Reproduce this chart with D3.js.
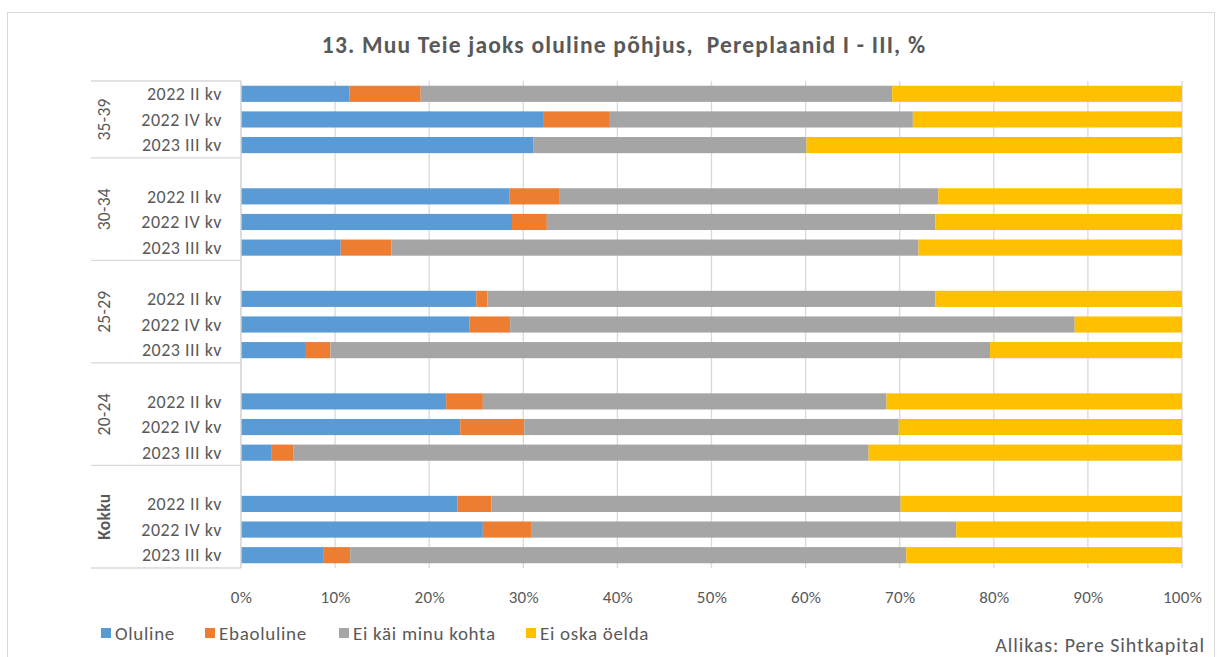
<!DOCTYPE html>
<html>
<head>
<meta charset="utf-8">
<script src="https://cdn.jsdelivr.net/npm/d3@7"></script>
<style>
  body { margin: 0; background: #fff; }
  text { font-family: Carlito, Calibri, Lato, sans-serif; fill: #595959; }
</style>
</head>
<body>
<div id="chart"></div>
<script>
// data (percent)
var groups = ["35-39", "30-34", "25-29", "20-24", "Kokku"];
var periods = ["2022 II kv", "2022 IV kv", "2023 III kv"];
var seriesNames = ["Oluline", "Ebaoluline", "Ei käi minu kohta", "Ei oska öelda"];
var seriesColors = ["#5B9BD5", "#ED7D31", "#A5A5A5", "#FFC000"];

var oluline    = [11.5, 32.1, 31.1,  28.5, 28.8, 10.6,  25.0, 24.3, 6.9,  21.8, 23.3, 3.2,  23.0, 25.7, 8.8];
var ebaoluline = [ 7.6,  7.1,  0.0,   5.3,  3.7,  5.4,   1.2,  4.3, 2.6,   3.9,  6.8, 2.4,   3.6,  5.2, 2.8];
var eiKai      = [50.1, 32.2, 29.0,  40.3, 41.3, 56.0,  47.6, 60.0, 70.1, 42.9, 39.8, 61.1, 43.5, 45.1, 59.1];
var eiOska     = [30.8, 28.6, 39.9,  25.9, 26.2, 28.0,  26.2, 11.4, 20.4, 31.4, 30.1, 33.3, 29.9, 24.0, 29.3];

var ticks = [0, 10, 20, 30, 40, 50, 60, 70, 80, 90, 100];

var W = 1222, H = 657;
var plotLeft = 241, plotRight = 1182, plotTop = 81, plotBottom = 568;

var svg = d3.select("#chart").append("svg")
  .attr("width", W)
  .attr("height", H);

svg.append("rect")
  .attr("x", 0).attr("y", 0).attr("width", W).attr("height", H)
  .attr("fill", "#fff");

// chart border
svg.append("rect")
  .attr("x", 7.5).attr("y", 12.5)
  .attr("width", 1207).attr("height", 700)
  .attr("fill", "none")
  .attr("stroke", "#d9d9d9");

svg.append("text")
  .attr("x", 624).attr("y", 53)
  .attr("text-anchor", "middle")
  .style("font-size", "23.5px")
  .style("letter-spacing", "1.2px")
  .style("white-space", "pre")
  .style("font-weight", "bold")
  .text("13. Muu Teie jaoks oluline põhjus,  Pereplaanid I - III, %");

// rows: one empty slot above every group except the first
var rows = [];
var slots = [];
groups.forEach(function(g, gi) {
  if (gi > 0) slots.push("gap" + gi);
  periods.forEach(function(p, pi) {
    var i = gi * periods.length + pi;
    var key = g + "|" + p;
    slots.push(key);
    rows.push({key: key, group: g, period: p,
      values: [oluline[i], ebaoluline[i], eiKai[i], eiOska[i]]});
  });
});

var x = d3.scaleLinear().domain([0, 100]).range([plotLeft, plotRight]);
var y = d3.scaleBand()
  .domain(slots)
  .range([plotTop, plotBottom])
  .paddingInner(0.37)
  .paddingOuter(0.185);

// gridlines
svg.append("g")
  .selectAll("line")
  .data(ticks)
  .enter().append("line")
    .attr("x1", function(d) { return x(d); })
    .attr("x2", function(d) { return x(d); })
    .attr("y1", plotTop)
    .attr("y2", plotBottom)
    .attr("stroke", "#d9d9d9")
    .attr("stroke-width", 1.3);

// stacked bars
var stackData = rows.map(function(r) {
  var o = {key: r.key};
  seriesNames.forEach(function(s, si) { o[s] = r.values[si]; });
  return o;
});
var stacked = d3.stack().keys(seriesNames)(stackData);

svg.append("g")
  .selectAll("g")
  .data(stacked)
  .enter().append("g")
    .attr("fill", function(d, i) { return seriesColors[i]; })
  .selectAll("rect")
  .data(function(d) { return d; })
  .enter().append("rect")
    .attr("x", function(d) { return x(d[0]); })
    .attr("width", function(d) { return x(d[1]) - x(d[0]); })
    .attr("y", function(d) { return y(d.data.key); })
    .attr("height", y.bandwidth());

// x axis labels
var xAxis = svg.append("g")
  .attr("transform", "translate(0," + (plotBottom + 20) + ")")
  .call(d3.axisBottom(x).tickValues(ticks).tickSize(0).tickFormat(function(d) { return d + "%"; }));
xAxis.select(".domain").remove();
xAxis.selectAll("text")
  .style("font-size", "17px")
  .style("letter-spacing", "0.3px")
  .style("font-family", null)
  .attr("fill", null);

// category axis
var half = y.step() * y.paddingInner() / 2;
function slotEnd(key) { return y(key) + y.bandwidth() + half; }

var boundaries = [plotTop];
groups.forEach(function(g) {
  boundaries.push(slotEnd(g + "|" + periods[periods.length - 1]));
});

var catAxis = svg.append("g");
catAxis.append("line")
  .attr("x1", plotLeft).attr("x2", plotLeft)
  .attr("y1", plotTop).attr("y2", plotBottom)
  .attr("stroke", "#d9d9d9").attr("stroke-width", 1.3);
catAxis.selectAll("line.sep")
  .data(boundaries)
  .enter().append("line")
    .attr("class", "sep")
    .attr("x1", 91).attr("x2", plotLeft)
    .attr("y1", function(d) { return d; })
    .attr("y2", function(d) { return d; })
    .attr("stroke", "#d9d9d9").attr("stroke-width", 1.3);

catAxis.selectAll("text.period")
  .data(rows)
  .enter().append("text")
    .attr("class", "period")
    .attr("x", 222)
    .attr("y", function(d) { return y(d.key) + y.bandwidth() / 2; })
    .attr("dy", "0.35em")
    .attr("text-anchor", "end")
    .style("font-size", "18px")
    .style("letter-spacing", "0.5px")
    .text(function(d) { return d.period; });

catAxis.selectAll("text.group")
  .data(groups)
  .enter().append("text")
    .attr("class", "group")
    .attr("transform", function(d, i) {
      var cy = (boundaries[i] + boundaries[i + 1]) / 2;
      return "translate(104," + cy + ") rotate(-90)";
    })
    .attr("dy", "0.35em")
    .attr("text-anchor", "middle")
    .style("font-size", "17.5px")
    .style("letter-spacing", "0.3px")
    .style("font-weight", function(d) { return d === "Kokku" ? "bold" : null; })
    .text(function(d) { return d; });

// legend
var legendX = [101, 205, 339, 526];
var legend = svg.append("g")
  .selectAll("g")
  .data(seriesNames)
  .enter().append("g")
    .attr("transform", function(d, i) { return "translate(" + legendX[i] + ",633)"; });
legend.append("rect")
  .attr("x", 0).attr("y", -5)
  .attr("width", 10).attr("height", 10)
  .attr("fill", function(d, i) { return seriesColors[i]; });
legend.append("text")
  .attr("x", 14)
  .attr("dy", "0.35em")
  .style("font-size", "19px")
  .style("letter-spacing", "0.7px")
  .text(function(d) { return d; });

svg.append("text")
  .attr("x", 1205).attr("y", 652)
  .attr("text-anchor", "end")
  .style("font-size", "20px")
  .style("letter-spacing", "0.9px")
  .text("Allikas: Pere Sihtkapital");
</script>
</body>
</html>
